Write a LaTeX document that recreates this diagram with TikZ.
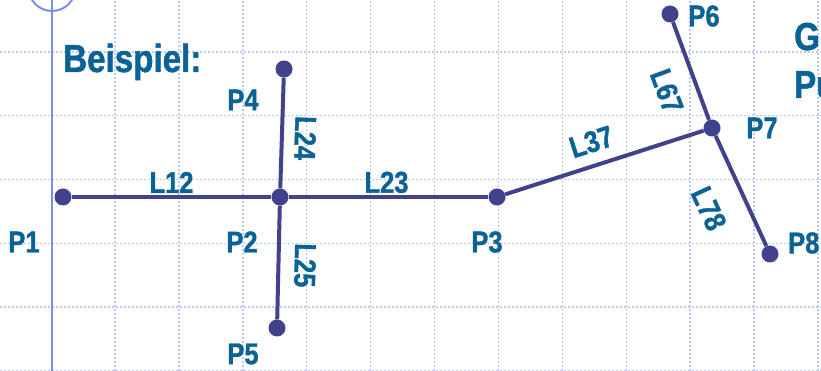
\documentclass[tikz,border=0pt]{standalone}
\usepackage{fontspec}
\setmainfont{Liberation Sans}[FakeStretch=0.85,FakeBold=1.2]
\usetikzlibrary{positioning}
\definecolor{linkblue}{RGB}{66,66,140}
\definecolor{textblue}{RGB}{10,98,150}
\definecolor{axisblue}{RGB}{125,140,240}
\definecolor{gridblue}{RGB}{188,200,246}

\begin{document}
\begin{tikzpicture}[x=1pt,y=1pt,
  dot/.style={circle,fill=linkblue,inner sep=0pt,minimum size=17pt},
  link/.style={linkblue,line width=4pt},
  ptext/.style={textblue,font=\fontsize{30}{32}\selectfont\bfseries,inner sep=0pt},
  ltext/.style={ptext,sloped},
  headtext/.style={textblue,font=\fontsize{39}{42}\selectfont\bfseries,inner sep=0pt,anchor=base west},
  gridline/.style={gridblue,line width=1.4pt,dash pattern=on 2pt off 2pt},
  axis/.style={axisblue,line width=2pt}]
\useasboundingbox (0,0) rectangle (821,371);
% grid
\foreach \x in {1,...,12}
  \draw[gridline] ({51.1+63.9*\x},0) -- ++(0,371);
\foreach \y in {0,...,5}
  \draw[gridline] (0,{63.8*\y}) -- ++(821,0);
\draw[axis] (52,0) -- (52,371);
\draw[axis] (52,383.5) circle (23.5);

\node[headtext] (title) at (63,299) {Beispiel:};
\node[headtext] (ge) at (794,321) {Ge};
\node[headtext] (pu) at (794,273) {Pu};

% points
\node[dot] (p1) at (63,174) {};
\node[dot] (p2) at (280,174) {};
\node[dot] (p3) at (497,174) {};
\node[dot] (p4) at (284,302) {};
\node[dot] (p5) at (277,43) {};
\node[dot] (p6) at (670,357) {};
\node[dot] (p7) at (712,243) {};
\node[dot] (p8) at (770,117) {};

% lines
\draw[link] (p1) -- (p2) node[ltext,pos=0.5,above=2pt] {L12};
\draw[link] (p2) -- (p3) node[ltext,pos=0.49,above=2pt] {L23};
\draw[link] (p4) -- (p2) node[ltext,allow upside down,pos=0.54,above=11pt] {L24};
\draw[link] (p2) -- (p5) node[ltext,allow upside down,pos=0.52,above=14pt] {L25};
\draw[link] (p3) -- (p7) node[ltext,pos=0.47,above=11pt] {L37};
\draw[link] (p6) -- (p7) node[ltext,pos=0.6,below=17pt] {L67};
\draw[link] (p7) -- (p8) node[ltext,pos=0.52,below=24pt] {L78};

% point names
\node[ptext] (t1) at (24,129) {P1};
\node[ptext] (t2) at (242,129) {P2};
\node[ptext] (t3) at (487,129) {P3};
\node[ptext] (t4) at (243,271) {P4};
\node[ptext] (t5) at (243,17) {P5};
\node[ptext] (t6) at (704,355) {P6};
\node[ptext] (t7) at (762,243) {P7};
\node[ptext,anchor=west] (t8) at (788,128) {P8};
\end{tikzpicture}
\end{document}
